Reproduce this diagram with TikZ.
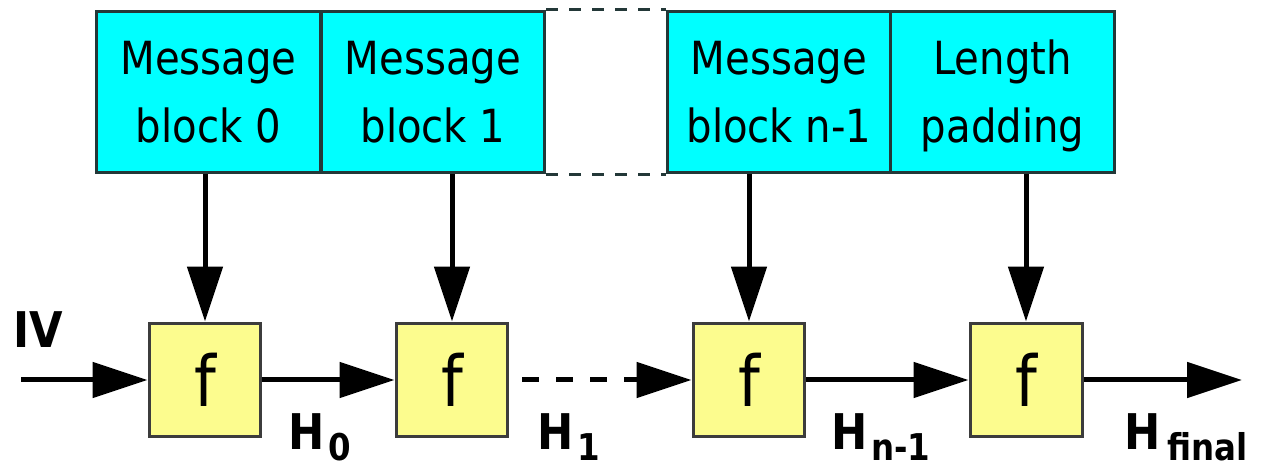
\documentclass[tikz,border=0pt]{standalone}
\usepackage{fontspec}
\usetikzlibrary{arrows.meta}
\newfontfamily\boxfont{DejaVu Sans}[FakeStretch=0.88]
\newfontfamily\labfont{DejaVu Sans}[FakeStretch=0.88]
\definecolor{msgcyan}{HTML}{00FFFF}
\definecolor{msgedge}{HTML}{233838}
\definecolor{fyellow}{HTML}{FCFC8E}
\definecolor{fedge}{HTML}{3C3C3C}
\tikzset{
  msgbox/.style={draw=msgedge, fill=msgcyan, line width=0.06cm, minimum width=4.47cm, minimum height=3.24cm,
    inner sep=0pt, align=center, text height=2.02cm, text depth=0cm,
    font=\boxfont\fontsize{26pt}{38.7pt}\selectfont},
  fbox/.style={draw=fedge, fill=fyellow, line width=0.06cm, minimum width=2.24cm, minimum height=2.28cm,
    inner sep=0pt, font=\boxfont\fontsize{40pt}{48pt}\selectfont},
  flow/.style={line width=0.1cm, -{Triangle[length=1.1cm, width=0.7cm]}},
  gapline/.style={draw=msgedge, line width=0.055cm, dash pattern=on 0.24cm off 0.22cm},
  lab/.style={inner sep=0pt, font=\labfont\bfseries\fontsize{28pt}{34pt}\selectfont},
}
\newcommand{\subtxt}[1]{\raisebox{-0.24cm}{\fontsize{21pt}{25pt}\selectfont #1}}
\begin{document}
\begin{tikzpicture}[x=0.02cm, y=-0.02cm]
\useasboundingbox (0,0) rectangle (1261,469);
% message blocks
\node[msgbox] (b0) at (208.5,92) {Message\\block 0};
\node[msgbox] (b1) at (433,92) {Message\\block 1};
\node[msgbox] (b2) at (779,92) {Message\\block n-1};
\node[msgbox] (b3) at (1002.5,92) {Length\\padding};
\draw[gapline] (b1.north east) -- (b2.north west);
\draw[gapline] (b1.south east) -- (b2.south west);
% compression functions
\node[fbox] (f0) at (205,380) {f};
\node[fbox] (f1) at (452,380) {f};
\node[fbox] (f2) at (749,380) {f};
\node[fbox] (f3) at (1026,380) {f};
% vertical arrows
\draw[flow] (f0.north |- b0.south) -- (f0.north);
\draw[flow] (f1.north |- b1.south) -- (f1.north);
\draw[flow] (f2.north |- b2.south) -- (f2.north);
\draw[flow] (f3.north |- b3.south) -- (f3.north);
% chain
\coordinate (in) at (21,380);
\coordinate (out) at (1242,380);
\draw[flow] (in) -- (f0.west);
\draw[flow] (f0.east) -- (f1.west);
\draw[flow, dash pattern=on 0.34cm off 0.34cm, shorten <=0.26cm] (f1.east) -- (f2.west);
\draw[flow] (f2.east) -- (f3.west);
\draw[flow] (f3.east) -- (out);
% labels
\node[lab, anchor=base west] (iv) at (13,348) {IV};
\node[lab, anchor=base west] (h0) at (288,449) {H\kern2pt\subtxt{0}};
\node[lab, anchor=base west] (h1) at (537,449) {H\kern2pt\subtxt{1}};
\node[lab, anchor=base west] (hn) at (831,449) {H\kern2pt\subtxt{n-1}};
\node[lab, anchor=base west] (hf) at (1124,449) {H\kern4pt\subtxt{final}};
\end{tikzpicture}
\end{document}
